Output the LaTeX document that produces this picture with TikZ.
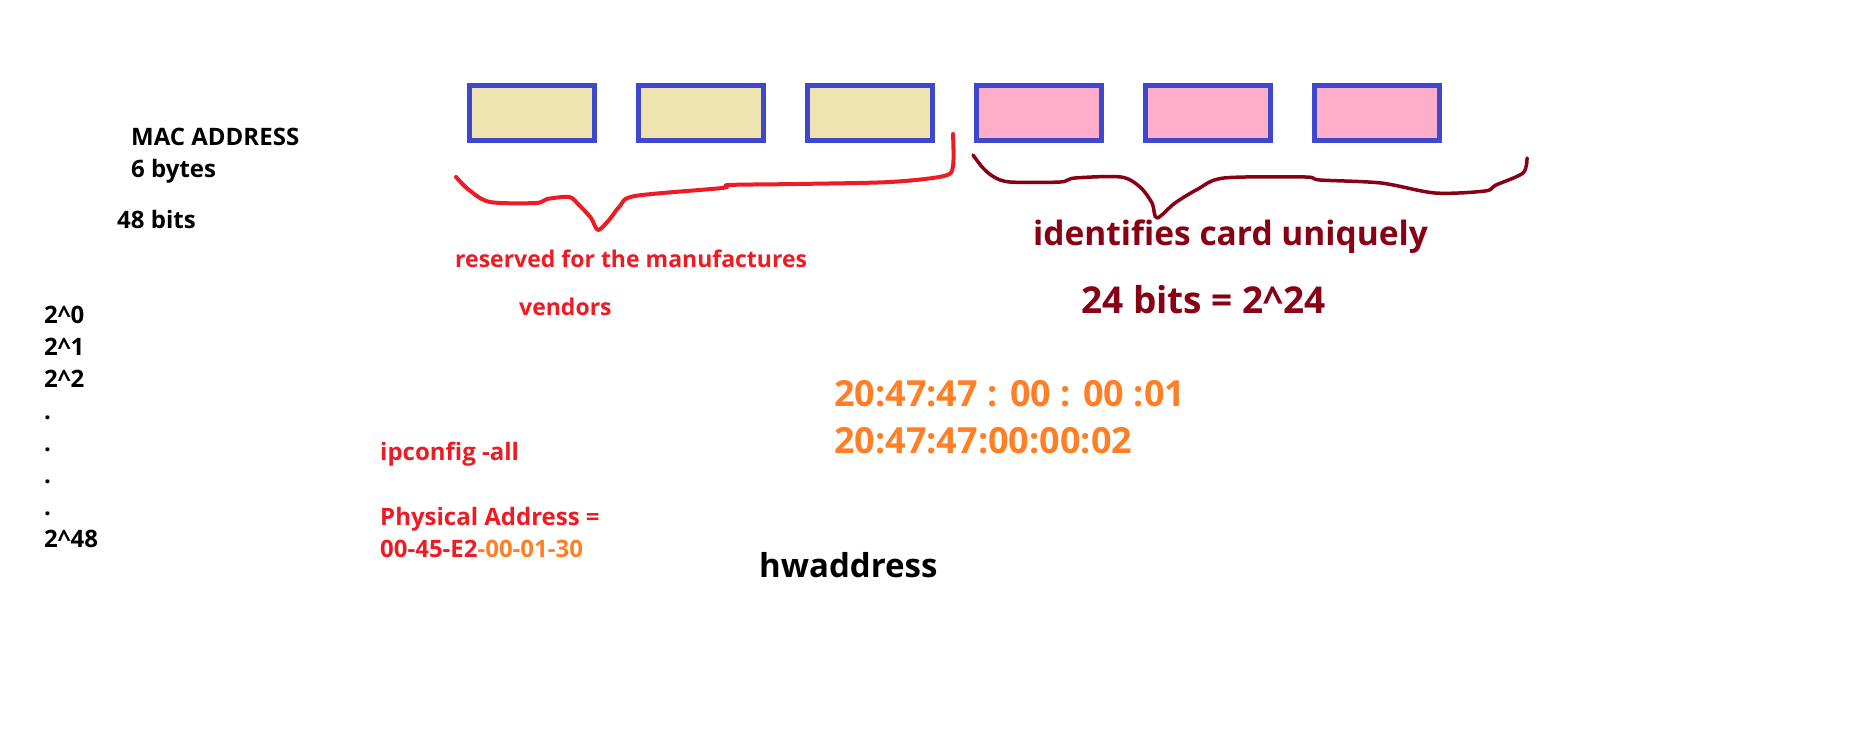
\documentclass[tikz,border=0pt]{standalone}
\usepackage{fontspec}
\setmainfont{Open Sans}
\usetikzlibrary{positioning}
\definecolor{boxline}{HTML}{3F48CC}
\definecolor{vendfill}{HTML}{EFE4B0}
\definecolor{cardfill}{HTML}{FFAEC9}
\definecolor{penred}{HTML}{ED1C24}
\definecolor{pendark}{HTML}{880015}
\definecolor{penorange}{HTML}{FF7F27}

\begin{document}
\begin{tikzpicture}[
    x=1pt, y=-1pt,
    node distance=39pt,
    byte/.style={rectangle, draw=boxline, line width=5pt, minimum width=125pt, minimum height=55pt, inner sep=0pt},
    note/.style={anchor=base west, inner sep=0pt, font=\bfseries\fontsize{24}{32}\selectfont},
    big/.style={anchor=base west, inner sep=0pt, font=\bfseries\fontsize{36}{47}\selectfont},
    brace/.style={line width=4pt, line cap=round, line join=round}
]
    \fill[white] (0,0) rectangle (1850,743);
    \useasboundingbox (0,0) rectangle (1850,743);

    % the six bytes
    \node [byte, fill=vendfill] (v1) at (532,113) {};
    \node [byte, fill=vendfill, right=of v1] (v2) {};
    \node [byte, fill=vendfill, right=of v2] (v3) {};
    \node [byte, fill=cardfill, right=of v3] (c1) {};
    \node [byte, fill=cardfill, right=of c1] (c2) {};
    \node [byte, fill=cardfill, right=of c2] (c3) {};

    % hand drawn braces
    \draw [brace, penred] plot[smooth, tension=0.5] coordinates {(456,177) (469,190) (490,202) (536,203) (547,199) (569,197) (578,204) (591,218) (598,230) (609,220) (620,206) (635,196) (722,188) (729,185) (797,184) (890,182) (944,176) (953,166) (953,134)};
    \draw [brace, pendark, line width=3.5pt] plot[smooth, tension=0.5] coordinates {(973,155) (983,168) (994,177) (1010,182) (1060,182) (1075,178) (1121,177) (1140,187) (1152,203) (1157,218) (1175,203) (1198,189) (1224,178) (1305,177) (1320,180) (1381,183) (1435,193) (1485,191) (1496,185) (1523,173) (1527,158)};

    \node [note] (mac) at (131,146) {MAC ADDRESS};
    \node [note] (bytes) at (131,178) {6 bytes};
    \node [note] (bits) at (117,229) {48 bits};
    \node [note, anchor=north west, align=left] (pows) at (44,306) {2\textasciicircum0\\2\textasciicircum1\\2\textasciicircum2\\.\\.\\.\\.\\2\textasciicircum48};

    \node [note, text=penred, font=\bfseries\fontsize{23}{32}\selectfont] (maker) at (455,268) {reserved for the manufactures};
    \node [note, text=penred, font=\bfseries\fontsize{23}{32}\selectfont] (vendors) at (519,316) {vendors};
    \node [big, text=pendark, font=\bfseries\fontsize{33.5}{47}\selectfont] (unique) at (1033,246) {identifies card uniquely};
    \node [big, text=pendark, font=\bfseries\fontsize{37}{47}\selectfont] (count) at (1081,313) {24 bits = 2\textasciicircum24};

    \node [big, text=penorange] (ex1) at (834,406) {20:47:47 : 00 : 00 :01};
    \node [big, text=penorange] (ex2) at (834,453) {20:47:47:00:00:02};

    \node [note, text=penred] (cmd) at (380,460) {ipconfig -all};
    \node [note, text=penred] (phys) at (380,525) {Physical Address =};
    \node [note, text=penred] (addr) at (380,557) {00-45-E2\textcolor{penorange}{-00-01-30}};
    \node [note, font=\bfseries\fontsize{33}{40}\selectfont] (hw) at (759,577) {hwaddress};
\end{tikzpicture}
\end{document}
